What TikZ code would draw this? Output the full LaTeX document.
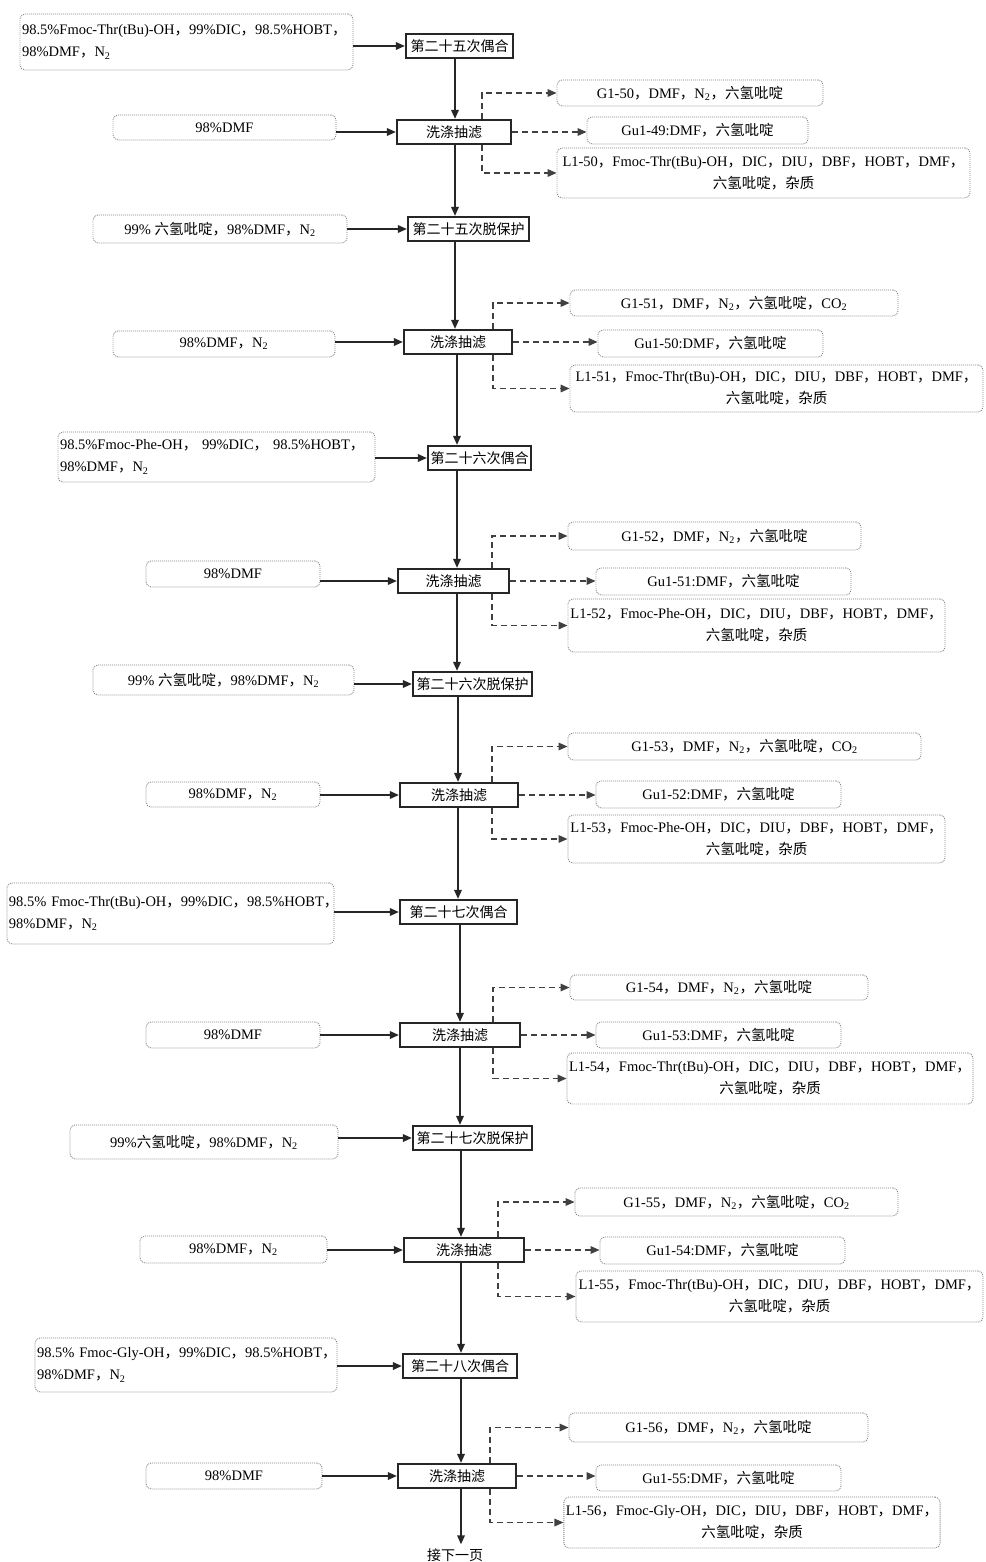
\documentclass[tikz,border=0pt]{standalone}
\usepackage{fontspec}
\setmainfont{Liberation Serif}
\newfontfamily\cjk{Noto Sans CJK SC}
\usetikzlibrary{arrows.meta}
\newcommand\dou{{\cjk ，}}
\newcommand\hq{{\cjk 六氢吡啶}}
\newcommand\zz{{\cjk 杂质}}
\newcommand\nt{N\textsubscript{2}}
\newcommand\cod{CO\textsubscript{2}}

\begin{document}
\begin{tikzpicture}[x=1pt,y=-1pt,
  font=\fontsize{14.5}{22}\selectfont,
  stepbox/.style={draw=black!85, line width=2.2pt, fill=white, minimum height=24pt,
    inner sep=1pt, font=\fontsize{14}{15}\selectfont\cjk},
  feed/.style={draw=black!50, dash pattern=on 0.9pt off 1.1pt, line width=0.9pt,
    rounded corners=5pt, inner sep=2pt, align=center},
  feedl/.style={feed, align=left},
  arr/.style={line width=1.7pt, draw=black!85, -{Triangle[length=9pt,width=7.5pt]}},
  darr/.style={line width=1.6pt, draw=black!75, dash pattern=on 6pt off 4pt,
    -{Triangle[length=9pt,width=7.5pt]}}
]
\useasboundingbox (0,0) rectangle (985,1562);

% spine positions of the main column
\coordinate (sA) at (455,0);
\coordinate (sB) at (457,0);
\coordinate (sC) at (458,0);
\coordinate (sD) at (460,0);
\coordinate (sE) at (461,0);

% ---------- main process steps ----------
\node[stepbox, minimum width=107pt] (m1)  at (459.5,46)   {第二十五次偶合};
\node[stepbox, minimum width=114pt] (m2)  at (454,132)    {洗涤抽滤};
\node[stepbox, minimum width=121pt] (m3)  at (468.5,229)  {第二十五次脱保护};
\node[stepbox, minimum width=108pt] (m4)  at (458,342)    {洗涤抽滤};
\node[stepbox, minimum width=103pt] (m5)  at (479.5,458)  {第二十六次偶合};
\node[stepbox, minimum width=111pt] (m6)  at (453.5,581)  {洗涤抽滤};
\node[stepbox, minimum width=119pt] (m7)  at (472.5,684)  {第二十六次脱保护};
\node[stepbox, minimum width=118pt] (m8)  at (459,795)    {洗涤抽滤};
\node[stepbox, minimum width=117pt] (m9)  at (458.5,912)  {第二十七次偶合};
\node[stepbox, minimum width=120pt] (m10) at (460,1035)   {洗涤抽滤};
\node[stepbox, minimum width=119pt] (m11) at (472.5,1138) {第二十七次脱保护};
\node[stepbox, minimum width=120pt] (m12) at (464,1250)   {洗涤抽滤};
\node[stepbox, minimum width=114pt] (m13) at (460,1366)   {第二十八次偶合};
\node[stepbox, minimum width=118pt] (m14) at (457,1476)   {洗涤抽滤};
\node[font=\fontsize{14}{15}\selectfont\cjk, inner sep=1pt] (next) at (455,1555) {接下一页};

% ---------- feed materials ----------
\node[feedl, text width=329pt, minimum height=56pt] (i1) at (186.5,42)
  {\mbox{98.5\%Fmoc-Thr(tBu)-OH\dou 99\%DIC\dou 98.5\%HOBT\dou}\\98\%DMF\dou \nt};
\node[feed, minimum width=223pt, minimum height=25pt] (i2) at (224.5,127.5) {98\%DMF};
\node[feed, minimum width=254pt, minimum height=28pt] (i3) at (220,229) {99\% \hq\dou 98\%DMF\dou \nt};
\node[feed, minimum width=222pt, minimum height=26pt] (i4) at (224,344) {98\%DMF\dou \nt};
\node[feedl, text width=313pt, minimum height=50pt] (i5) at (216.5,457)
  {\mbox{98.5\%Fmoc-Phe-OH\dou\ 99\%DIC\dou\ 98.5\%HOBT\dou}\\98\%DMF\dou \nt};
\node[feed, minimum width=174pt, minimum height=26pt] (i6) at (233,574) {98\%DMF};
\node[feed, minimum width=261pt, minimum height=30pt] (i7) at (223.5,680) {99\% \hq\dou 98\%DMF\dou \nt};
\node[feed, minimum width=174pt, minimum height=25pt] (i8) at (233,794.5) {98\%DMF\dou \nt};
\node[feedl, text width=323pt, minimum height=61pt] (i9) at (170.5,913.5)
  {\mbox{98.5\% Fmoc-Thr(tBu)-OH\dou 99\%DIC\dou 98.5\%HOBT\dou}\\98\%DMF\dou \nt};
\node[feed, minimum width=174pt, minimum height=26pt] (i10) at (233,1035) {98\%DMF};
\node[feed, minimum width=268pt, minimum height=34pt] (i11) at (204,1142) {99\%\hq\dou 98\%DMF\dou \nt};
\node[feed, minimum width=187pt, minimum height=27pt] (i12) at (233.5,1249.5) {98\%DMF\dou \nt};
\node[feedl, text width=298pt, minimum height=54pt] (i13) at (186,1365)
  {\mbox{98.5\% Fmoc-Gly-OH\dou 99\%DIC\dou 98.5\%HOBT\dou}\\98\%DMF\dou \nt};
\node[feed, minimum width=176pt, minimum height=26pt] (i14) at (234,1476) {98\%DMF};

% ---------- waste streams ----------
\node[feed, minimum width=266pt, minimum height=26pt] (g50) at (690,93) {G1-50\dou DMF\dou \nt\dou \hq};
\node[feed, minimum width=221pt, minimum height=27pt] (u49) at (697.5,130.5) {Gu1-49:DMF\dou \hq};
\node[feed, minimum width=413pt, minimum height=50pt] (l50) at (763.5,173)
  {L1-50\dou Fmoc-Thr(tBu)-OH\dou DIC\dou DIU\dou DBF\dou HOBT\dou DMF\dou\\\hq\dou \zz};

\node[feed, minimum width=328pt, minimum height=26pt] (g51) at (734,303) {G1-51\dou DMF\dou \nt\dou \hq\dou \cod};
\node[feed, minimum width=225pt, minimum height=27pt] (u50) at (710.5,343.5) {Gu1-50:DMF\dou \hq};
\node[feed, minimum width=413pt, minimum height=47pt] (l51) at (776.5,388.5)
  {L1-51\dou Fmoc-Thr(tBu)-OH\dou DIC\dou DIU\dou DBF\dou HOBT\dou DMF\dou\\\hq\dou \zz};

\node[feed, minimum width=293pt, minimum height=28pt] (g52) at (714.5,536) {G1-52\dou DMF\dou \nt\dou \hq};
\node[feed, minimum width=255pt, minimum height=27pt] (u51) at (723.5,581.5) {Gu1-51:DMF\dou \hq};
\node[feed, minimum width=377pt, minimum height=53pt] (l52) at (756.5,625.5)
  {L1-52\dou Fmoc-Phe-OH\dou DIC\dou DIU\dou DBF\dou HOBT\dou DMF\dou\\\hq\dou \zz};

\node[feed, minimum width=353pt, minimum height=27pt] (g53) at (744.5,746.5) {G1-53\dou DMF\dou \nt\dou \hq\dou \cod};
\node[feed, minimum width=245pt, minimum height=27pt] (u52) at (718.5,794.5) {Gu1-52:DMF\dou \hq};
\node[feed, minimum width=377pt, minimum height=48pt] (l53) at (756.5,839)
  {L1-53\dou Fmoc-Phe-OH\dou DIC\dou DIU\dou DBF\dou HOBT\dou DMF\dou\\\hq\dou \zz};

\node[feed, minimum width=298pt, minimum height=25pt] (g54) at (719,987.5) {G1-54\dou DMF\dou \nt\dou \hq};
\node[feed, minimum width=245pt, minimum height=26pt] (u53) at (718.5,1035) {Gu1-53:DMF\dou \hq};
\node[feed, minimum width=400pt, minimum height=51pt] (l54) at (770,1078.5)
  {L1-54\dou Fmoc-Thr(tBu)-OH\dou DIC\dou DIU\dou DBF\dou HOBT\dou DMF\dou\\\hq\dou \zz};

\node[feed, minimum width=323pt, minimum height=28pt] (g55) at (736.5,1202) {G1-55\dou DMF\dou \nt\dou \hq\dou \cod};
\node[feed, minimum width=245pt, minimum height=27pt] (u54) at (722.5,1250.5) {Gu1-54:DMF\dou \hq};
\node[feed, minimum width=407pt, minimum height=51pt] (l55) at (779.5,1296.5)
  {L1-55\dou Fmoc-Thr(tBu)-OH\dou DIC\dou DIU\dou DBF\dou HOBT\dou DMF\dou\\\hq\dou \zz};

\node[feed, minimum width=299pt, minimum height=29pt] (g56) at (718.5,1427.5) {G1-56\dou DMF\dou \nt\dou \hq};
\node[feed, minimum width=245pt, minimum height=26pt] (u55) at (718.5,1478) {Gu1-55:DMF\dou \hq};
\node[feed, minimum width=366pt, minimum height=51pt] (l56) at (752,1522.5)
  {L1-56\dou Fmoc-Gly-OH\dou DIC\dou DIU\dou DBF\dou HOBT\dou DMF\dou\\\hq\dou \zz};

% ---------- main flow ----------
\draw[arr] (m1.south -| sA) -- (m2.north -| sA);
\draw[arr] (m2.south -| sA) -- (m3.north -| sA);
\draw[arr] (m3.south -| sA) -- (m4.north -| sA);
\draw[arr] (m4.south -| sB) -- (m5.north -| sB);
\draw[arr] (m5.south -| sB) -- (m6.north -| sB);
\draw[arr] (m6.south -| sB) -- (m7.north -| sB);
\draw[arr] (m7.south -| sC) -- (m8.north -| sC);
\draw[arr] (m8.south -| sC) -- (m9.north -| sC);
\draw[arr] (m9.south -| sD) -- (m10.north -| sD);
\draw[arr] (m10.south -| sD) -- (m11.north -| sD);
\draw[arr] (m11.south -| sE) -- (m12.north -| sE);
\draw[arr] (m12.south -| sE) -- (m13.north -| sE);
\draw[arr] (m13.south -| sE) -- (m14.north -| sE);
\draw[arr] (m14.south -| sE) -- ([yshift=3pt]next.north -| sE);

% ---------- feeds into the steps ----------
\foreach \i in {1,...,14}
  \draw[arr] (i\i.east |- m\i.west) -- (m\i.west);

% ---------- waste branches of each washing step ----------
\foreach \m/\g/\u/\l/\dx in {m2/g50/u49/l50/28, m4/g51/u50/l51/35, m6/g52/u51/l52/38.5,
    m8/g53/u52/l53/33, m10/g54/u53/l54/33, m12/g55/u54/l55/34, m14/g56/u55/l56/33} {
  \draw[darr] ([xshift=\dx pt]\m.north) |- (\g.west);
  \draw[darr] (\m.east) -- (\u.west |- \m.east);
  \draw[darr] ([xshift=\dx pt]\m.south) |- (\l.west);
}
\end{tikzpicture}
\end{document}
